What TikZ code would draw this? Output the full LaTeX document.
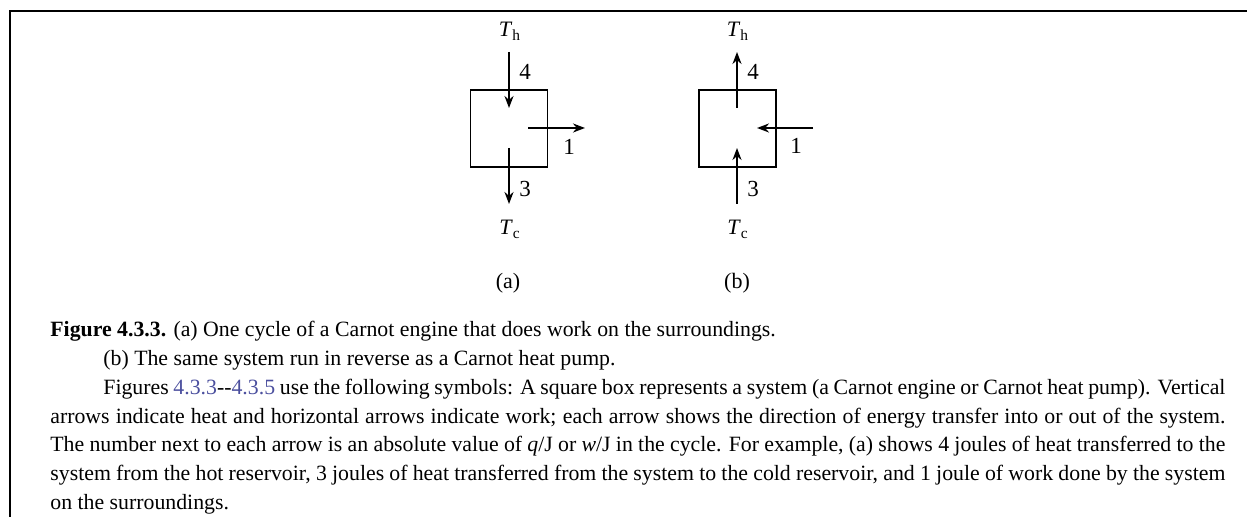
\documentclass[tikz,border=0pt]{standalone}
\usepackage{fontspec}
\setmainfont{Liberation Serif}
\usepackage{xcolor}
\usetikzlibrary{arrows.meta,positioning,calc}
\definecolor{reflink}{HTML}{4B4F9E}
\tikzset{
  sysbox/.style={
    draw,
    line width=0.8pt,
    minimum width=38.5pt,
    minimum height=38.5pt,
    inner sep=0pt
  },
  flow/.style={
    -{Stealth[length=6pt,width=4.5pt]},
    line width=1.1pt
  },
  reservoir/.style={
    anchor=base,
    inner sep=0pt,
    font=\fontsize{11}{13}\selectfont
  },
  amount/.style={
    anchor=base west,
    inner sep=0pt,
    font=\fontsize{11.5}{13}\selectfont
  },
  capline/.style={
    anchor=base west,
    inner sep=0pt,
    font=\fontsize{10.9}{13}\selectfont
  }
}

\begin{document}
\begin{tikzpicture}[x=0.5pt, y=-0.5pt]
\useasboundingbox (0,0) rectangle (1247,517);
\draw[line width=1pt] (10,517) -- (10,11) -- (1247,11);

\node[sysbox] (engine) at (509,128.5) {};
\node[reservoir] (hotA) at (510,37) {\textit{T}\textsubscript{h}};
\node[reservoir] (coldA) at (510,235) {\textit{T}\textsubscript{c}};
\coordinate (hotAout) at (509,52);
\coordinate (coldAin) at (509,204);
\coordinate (workA) at (585,128);
\draw[flow] (hotAout) -- ($(engine.center)+(0,-20.5)$);
\draw[flow] ($(engine.center)+(0,19.5)$) -- (coldAin);
\draw[flow] ($(engine.center)+(19,-0.5)$) -- (workA);
\node[amount] (qhA) at (519,80) {4};
\node[amount] (qcA) at (519,197) {3};
\node[amount] (wA) at (563,155) {1};
\node[reservoir] (labelA) at (508,289) {(a)};

\node[sysbox] (pump) at (737.5,128.5) {};
\node[reservoir] (hotB) at (738,37) {\textit{T}\textsubscript{h}};
\node[reservoir] (coldB) at (738,235) {\textit{T}\textsubscript{c}};
\coordinate (hotBin) at (737,52);
\coordinate (coldBout) at (737,204);
\coordinate (workB) at (813,128);
\draw[flow] ($(pump.center)+(-0.5,-20.5)$) -- (hotBin);
\draw[flow] (coldBout) -- ($(pump.center)+(-0.5,19.5)$);
\draw[flow] (workB) -- ($(pump.center)+(19.5,-0.5)$);
\node[amount] (qhB) at (747,80) {4};
\node[amount] (qcB) at (747,197) {3};
\node[amount] (wB) at (790,154) {1};
\node[reservoir] (labelB) at (737,289) {(b)};

\node[capline] (caption) at (50,337) {\textbf{Figure 4.3.3.} (a) One cycle of a Carnot engine that does work on the surroundings.};
\node[capline] (captionb) at (103,365.7) {(b) The same system run in reverse as a Carnot heat pump.};
\node[capline] (legend1) at (103,394.4) {\makebox[561pt][s]{Figures \textcolor{reflink}{4.3.3}-{}-\textcolor{reflink}{4.3.5} use the following symbols: A square box represents a system (a Carnot engine or Carnot heat pump). Vertical}};
\node[capline] (legend2) at (50,423.1) {\makebox[587.5pt][s]{arrows indicate heat and horizontal arrows indicate work; each arrow shows the direction of energy transfer into or out of the system.}};
\node[capline] (legend3) at (50,451.8) {\makebox[587.5pt][s]{The number next to each arrow is an absolute value of \textit{q}/J or \textit{w}/J in the cycle. For example, (a) shows 4 joules of heat transferred to the}};
\node[capline] (legend4) at (50,480.5) {\makebox[587.5pt][s]{system from the hot reservoir, 3 joules of heat transferred from the system to the cold reservoir, and 1 joule of work done by the system}};
\node[capline] (legend5) at (50,509.2) {on the surroundings.};
\end{tikzpicture}
\end{document}
